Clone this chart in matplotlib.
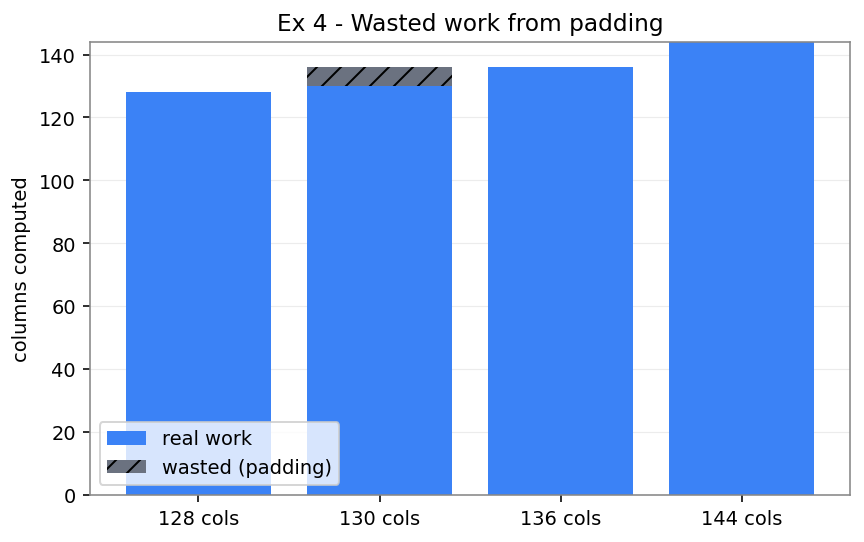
import matplotlib
matplotlib.use("Agg")
import matplotlib.pyplot as plt
import numpy as np

labels = ["128 cols", "130 cols", "136 cols", "144 cols"]
real_work = [128, 130, 136, 144]
wasted = [0, 6, 0, 0]

plt.rcParams["font.size"] = 9.7

fig, ax = plt.subplots(figsize=(6, 3.77), dpi=144)
x = np.arange(len(labels))
ax.bar(x, real_work, width=0.8, color="#3b82f6", label="real work", zorder=2)
ax.bar(x, wasted, width=0.8, bottom=real_work, color="#6b7280",
       hatch="//", edgecolor="black", linewidth=0, label="wasted (padding)", zorder=2)

ax.set_xticks(x)
ax.set_xticklabels(labels)
ax.set_ylim(0, 144)
ax.set_xlim(-0.6, 3.6)
ax.set_ylabel("columns computed")
ax.set_title("Ex 4 - Wasted work from padding", fontsize=11.6)
ax.grid(axis="y", color="#ececec", linewidth=0.6, zorder=0)
for s in ax.spines.values():
    s.set_color("#888888")
ax.legend(loc="lower left", framealpha=0.8)

fig.subplots_adjust(left=0.104, right=0.984, top=0.921, bottom=0.087)
fig.savefig("out.png")
